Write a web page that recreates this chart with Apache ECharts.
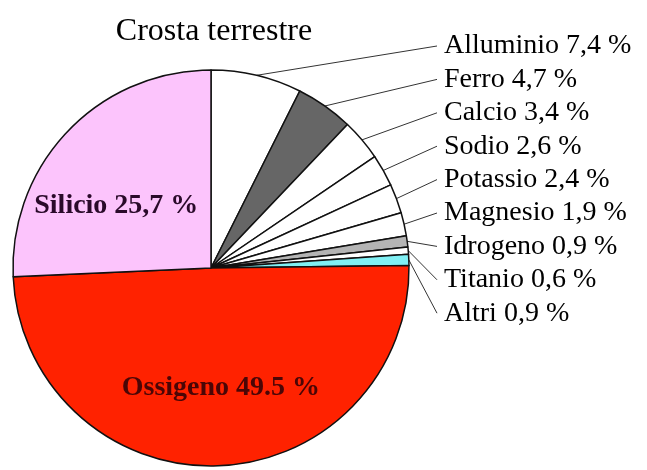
<!DOCTYPE html>
<html>
<head>
<meta charset="utf-8">
<script src="https://cdn.jsdelivr.net/npm/echarts@6/dist/echarts.min.js"></script>
<style>
  html, body { margin: 0; padding: 0; background: #fff; }
  #chart { width: 647px; height: 470px; }
</style>
</head>
<body>
<div id="chart"></div>
<script>
// elementi della crosta terrestre (in senso orario dalle 12)
var elementi = ["Alluminio", "Ferro", "Calcio", "Sodio", "Potassio", "Magnesio", "Idrogeno", "Titanio", "Altri", "Ossigeno", "Silicio"];
var percentuali = [7.4, 4.7, 3.4, 2.6, 2.4, 1.9, 0.9, 0.6, 0.9, 49.5, 25.7];
var testoValori = ["7,4", "4,7", "3,4", "2,6", "2,4", "1,9", "0,9", "0,6", "0,9", "49.5", "25,7"];
var colori = ["#ffffff", "#666666", "#ffffff", "#ffffff", "#ffffff", "#ffffff", "#b4b4b4", "#ffffff", "#80f0f4", "#ff2200", "#fcc4fc"];

var serif = "'Liberation Serif', 'DejaVu Serif', serif";
var myChart = echarts.init(document.getElementById("chart"));

// etichette interne per i due settori grandi
var interne = {
  Ossigeno: { offset: [7, 18], color: "#4a0606" },
  Silicio: { offset: [-21, 8], color: "#2a0a2a" }
};

var dati = elementi.map(function (nome, i) {
  var item = {
    name: nome,
    value: percentuali[i],
    itemStyle: { color: colori[i] }
  };
  if (interne[nome]) {
    item.label = {
      position: "inside",
      offset: interne[nome].offset,
      color: interne[nome].color,
      fontWeight: "bold",
      fontSize: 28
    };
    item.labelLine = { show: false };
  }
  return item;
});

var option = {
  animation: false,
  title: {
    text: "Crosta terrestre",
    left: 209,
    textAlign: "center",
    top: 11,
    textStyle: { fontFamily: serif, fontWeight: "normal", fontSize: 32, color: "#000" }
  },
  series: [
    {
      type: "pie",
      center: [211, 268],
      radius: 198,
      startAngle: 90,
      clockwise: true,
      avoidLabelOverlap: false,
      data: dati,
      itemStyle: { borderColor: "#111", borderWidth: 1.5 },
      label: {
        show: true,
        position: "outside",
        fontFamily: serif,
        fontSize: 28,
        color: "#000",
        formatter: function (p) {
          return p.name + " " + testoValori[p.dataIndex] + " %";
        }
      },
      labelLine: {
        show: true,
        length: 10,
        length2: 10,
        lineStyle: { color: "#333", width: 1 }
      },
      labelLayout: function (params) {
        var i = params.dataIndex;
        if (i > 8) return {};
        var y = 46 + i * 33.4;
        var start = params.labelLinePoints ? params.labelLinePoints[0] : [211, 268];
        return {
          x: 444,
          y: y,
          align: "left",
          verticalAlign: "middle",
          labelLinePoints: [start, [437, y], [437, y]]
        };
      },
      emphasis: { disabled: true }
    }
  ]
};

myChart.setOption(option);
</script>
</body>
</html>
